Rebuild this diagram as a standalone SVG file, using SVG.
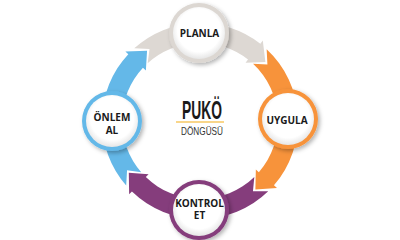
<svg xmlns="http://www.w3.org/2000/svg" width="400" height="240" viewBox="0 0 400 240">
<defs>
<style>
.lbl{font-family:"Open Sans","Liberation Sans",sans-serif;font-weight:700;font-size:10px;fill:#1a1a1a;text-anchor:middle}
.inner{fill:url(#ig)}
.ring{filter:url(#sh)}
</style>
<radialGradient id="ig" cx="50%" cy="45%" r="55%">
<stop offset="0.75" stop-color="#ffffff"/>
<stop offset="1" stop-color="#e6e6e6"/>
</radialGradient>
<filter id="sh" x="-30%" y="-30%" width="160%" height="160%">
<feDropShadow dx="2" dy="2" stdDeviation="2" flood-color="#000" flood-opacity="0.3"/>
</filter>
</defs>
<rect width="400" height="240" fill="#ffffff"/>
<g id="connectors">
<path d="M134.25,48.33 A98,98 0 0 1 260.34,43.78 L262.80,40.62 L265.39,62.12 L245.56,62.69 L248.02,59.54 A78,78 0 0 0 147.67,63.16 L149.52,48.91 Z" fill="#ddd8d3"/>
<path d="M266.66,49.16 A98,98 0 0 1 273.96,185.30 L276.98,187.92 L255.38,189.38 L255.85,169.55 L258.87,172.18 A78,78 0 0 0 253.06,63.82 L267.41,64.43 Z" fill="#f7933b"/>
<path d="M268.25,191.32 A98,98 0 0 1 131.92,191.49 L129.14,194.37 L128.81,172.73 L148.59,174.23 L145.81,177.11 A78,78 0 0 0 254.32,176.97 L252.96,191.28 Z" fill="#853d7c"/>
<path d="M126.20,185.47 A98,98 0 0 1 128.32,54.16 L125.40,51.44 L147.04,50.72 L145.88,70.53 L142.95,67.80 A78,78 0 0 0 141.26,172.32 L127.05,170.21 Z" fill="#64b8e8"/>
</g>
<g id="planla">
<circle class="ring" cx="199" cy="33" r="30" fill="#dcd7d2"/>
<circle class="inner" cx="199" cy="33" r="26"/>
<text class="lbl" x="199.5" y="36.5">PLANLA</text>
</g>
<g id="uygula">
<circle class="ring" cx="288" cy="119" r="30" fill="#f7933b"/>
<circle class="inner" cx="288" cy="119" r="26"/>
<text class="lbl" x="287" y="123.5">UYGULA</text>
</g>
<g id="kontrol-et">
<circle class="ring" cx="199" cy="210" r="30" fill="#853d7c"/>
<circle class="inner" cx="199" cy="210" r="26"/>
<text class="lbl" x="199.5" y="206.5">KONTROL</text>
<text class="lbl" x="199.5" y="219">ET</text>
</g>
<g id="onlem-al">
<circle class="ring" cx="112" cy="121" r="30" fill="#64b8e8"/>
<circle class="inner" cx="112" cy="121" r="26"/>
<text class="lbl" x="112" y="120.5">ÖNLEM</text>
<text class="lbl" x="112" y="133.5">AL</text>
</g>
<g id="title">
<text x="182" y="119" font-family="Liberation Sans, Arial, sans-serif" font-size="26" font-weight="700" fill="#1a1a1a" textLength="40" lengthAdjust="spacingAndGlyphs">PUKÖ</text>
<rect x="176" y="121" width="48" height="2" fill="#f9d68a"/>
<text x="181" y="135" font-family="Liberation Sans, Arial, sans-serif" font-size="11" fill="#333" textLength="42" lengthAdjust="spacingAndGlyphs">DÖNGÜSÜ</text>
</g>
</svg>
